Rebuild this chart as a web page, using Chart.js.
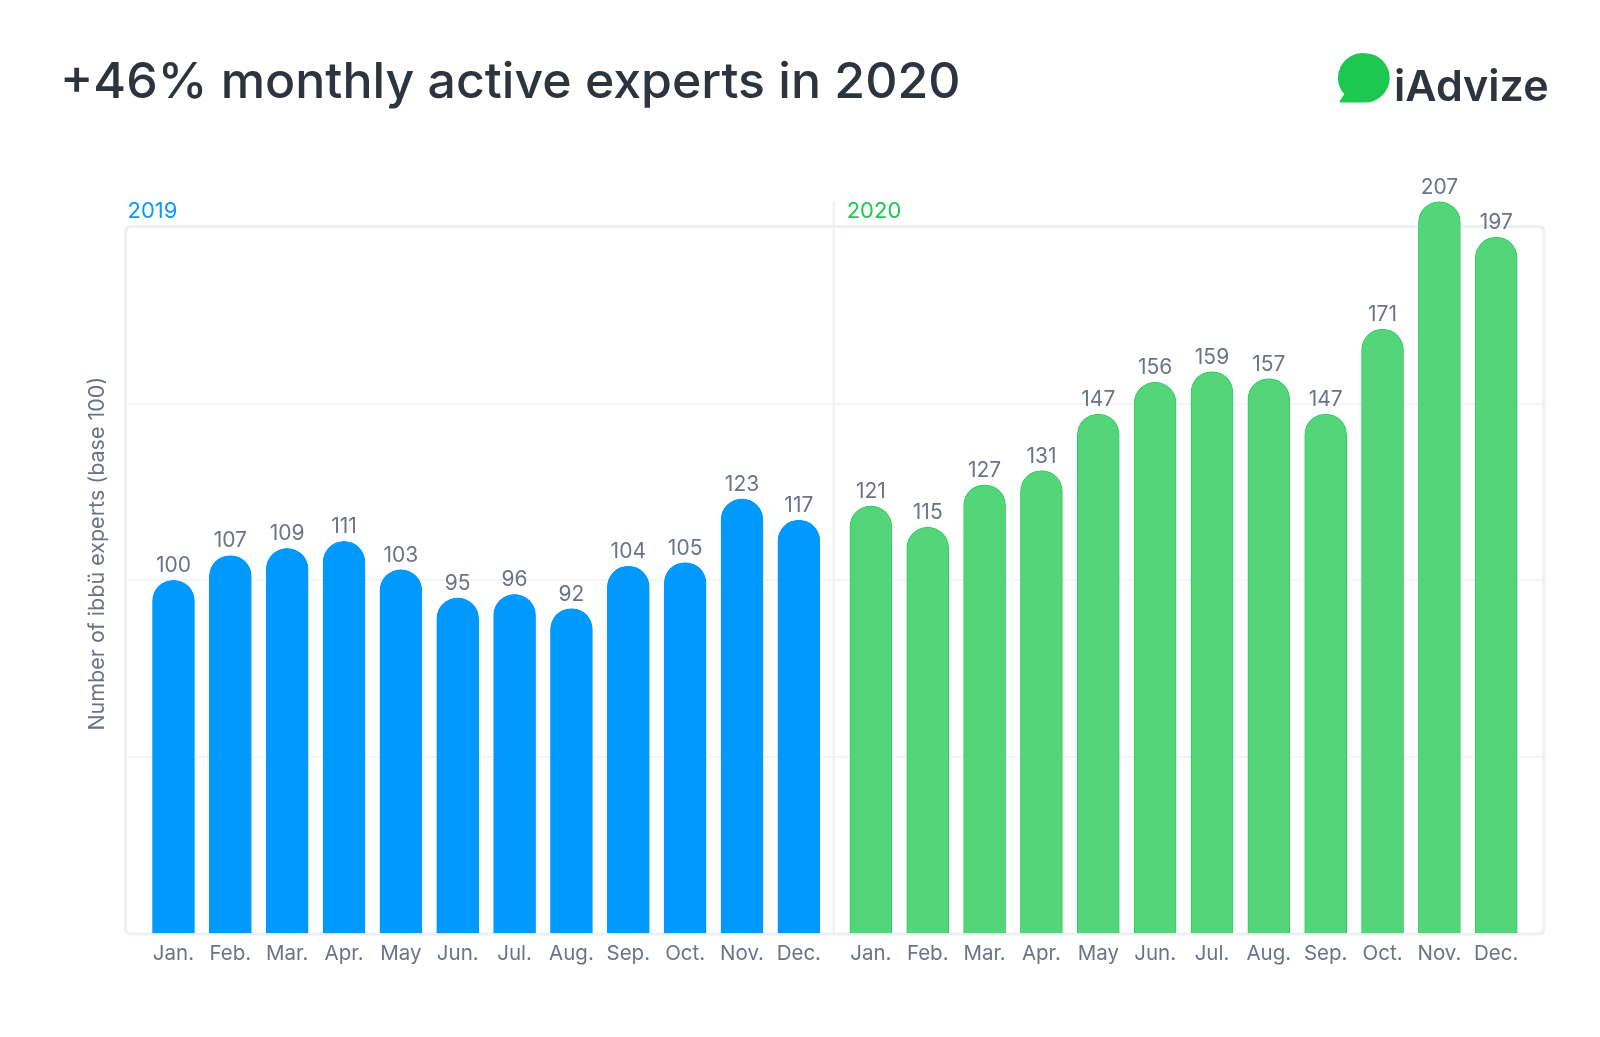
<!DOCTYPE html>
<html><head><meta charset="utf-8">
<style>
html,body{margin:0;padding:0;background:#fff;width:1600px;height:1037px;overflow:hidden}
#wrap{position:relative;width:1600px;height:1037px}
canvas{position:absolute;left:0;top:0}
h1{position:absolute;left:60px;top:50px;margin:0;font:500 50px Inter,sans-serif;color:#2e343d;white-space:nowrap}
#logoText{position:absolute;left:1394px;top:59px;font:600 43px Inter,sans-serif;color:#2e343d;white-space:nowrap}
svg{position:absolute;left:1335px;top:48px}
</style></head><body>
<div id="wrap">
<canvas id="c" width="1600" height="1037"></canvas>
<h1>+46% monthly active experts in 2020</h1>
<svg width="60" height="60" viewBox="0 0 60 60"><path d="M30 5.2a24.7 24.7 0 0 1 0 49.4H6.2q-2.4 0-1.2-2.2l4.2-6.2A24.7 24.7 0 0 1 30 5.2z" fill="#1cc84f"/></svg>
<div id="logoText">iAdvize</div>
</div>
<script src="https://cdn.jsdelivr.net/npm/chart.js@4"></script>
<script>
const months = ["Jan.","Feb.","Mar.","Apr.","May","Jun.","Jul.","Aug.","Sep.","Oct.","Nov.","Dec."];
const values2019 = [100,107,109,111,103,95,96,92,104,105,123,117];
const values2020 = [121,115,127,131,147,156,159,157,147,171,207,197];
const yearLabels = ["2019","2020"];
const yTitle = "Number of ibbü experts (base 100)";
const yearGap = 0.267;
const FONT = "Inter, sans-serif", GREY = "#6c7389", LINE = "#eef0f7";
const pos = (i, y) => y === 0 ? i : 12 + yearGap + i;
const pts = (arr, y) => arr.map((v, i) => ({x: pos(i, y), y: v}));
const dividerX = 11.613;

const decor = {
  id: "decor",
  beforeDatasetsDraw(ch) {
    const {ctx, scales: {x, y}} = ch;
    const l = x.left, r = x.right, t = y.getPixelForValue(200), b = y.getPixelForValue(0);
    ctx.save();
    ctx.strokeStyle = LINE; ctx.lineWidth = 3;
    ctx.beginPath(); ctx.roundRect(l, t, r - l, b - t, 6); ctx.stroke();
    const dx = x.getPixelForValue(dividerX);
    ctx.lineWidth = 2;
    ctx.beginPath(); ctx.moveTo(dx, y.getPixelForValue(207)); ctx.lineTo(dx, b); ctx.stroke();
    ctx.restore();
  },
  afterDatasetsDraw(ch) {
    const {ctx, scales: {x, y}} = ch;
    ctx.save();
    ctx.textAlign = "center"; ctx.textBaseline = "alphabetic";
    ctx.font = "21px " + FONT; ctx.fillStyle = GREY;
    ch.data.datasets.forEach(ds => ds.data.forEach(p => {
      ctx.fillText(String(p.y), x.getPixelForValue(p.x), y.getPixelForValue(p.y) - 8);
    }));
    ctx.textAlign = "left"; ctx.font = "22px " + FONT;
    ctx.fillStyle = "#0a99ff"; ctx.fillText(yearLabels[0], x.left + 2, y.getPixelForValue(200) - 8);
    ctx.fillStyle = "#1cc84f"; ctx.fillText(yearLabels[1], x.getPixelForValue(dividerX) + 13, y.getPixelForValue(200) - 8);
    ctx.restore();
  }
};

new Chart(document.getElementById("c"), {
  type: "bar",
  data: { datasets: [
    {label: yearLabels[0], data: pts(values2019, 0), backgroundColor: "#0099ff", borderColor: "#0099ff", borderWidth: 1, barThickness: 42, borderRadius: {topLeft: 21, topRight: 21}, borderSkipped: "bottom", grouped: false},
    {label: yearLabels[1], data: pts(values2020, 1), backgroundColor: "#54d57a", borderColor: "#2fcd5e", borderWidth: 1, barThickness: 42, borderRadius: {topLeft: 21, topRight: 21}, borderSkipped: "bottom", grouped: false}
  ]},
  options: {
    responsive: false, animation: false, devicePixelRatio: 1,
    layout: {padding: {top: 173.4, right: 56, left: 85, bottom: 0}},
    plugins: {legend: {display: false}, tooltip: {enabled: false}, title: {display: false}},
    scales: {
      x: {
        type: "linear", offset: false, min: -0.844, max: 24.107,
        grid: {display: false}, border: {display: false},
        afterBuildTicks(s) {
          s.ticks = [...months.map((m, i) => ({value: pos(i, 0)})), ...months.map((m, i) => ({value: pos(i, 1)}))];
        },
        afterTickToLabelConversion(s) {
          s.ticks.forEach((t, i) => { t.label = months[i % 12]; });
        },
        afterFit(s) { s.height = 103; },
        ticks: {color: GREY, font: {family: FONT, size: 20.5}, padding: 0, maxRotation: 0, autoSkip: false, align: "center"}
      },
      y: {
        min: 0, max: 215,
        grid: {color: c => c.tick.value % 50 === 0 ? "#f1f2f7" : "transparent", lineWidth: 1.5, drawTicks: false},
        border: {display: false},
        afterBuildTicks(s) { s.ticks = [0, 50, 100, 150, 200].map(v => ({value: v})); },
        afterFit(s) { s.width = 40.5; },
        ticks: {display: false},
        title: {display: true, text: yTitle, color: GREY, font: {family: FONT, size: 21.5}, padding: 0}
      }
    }
  },
  plugins: [decor]
});
</script>
</body></html>
